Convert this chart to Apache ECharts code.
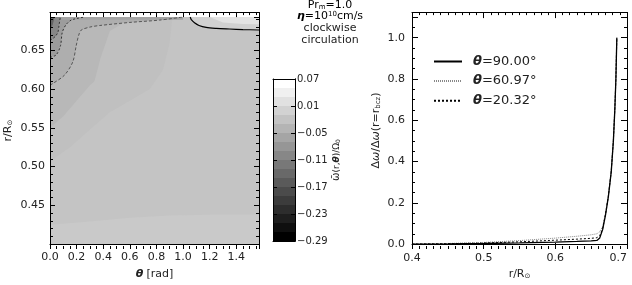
<!DOCTYPE html>
<html><head><meta charset="utf-8">
<script src="https://cdn.jsdelivr.net/npm/echarts@6/dist/echarts.min.js"></script>
<style>html,body{margin:0;padding:0;background:#fff}#c{width:632px;height:285px}</style>
</head><body><div id="c"></div>
<script>
const FONT = 'DejaVu Sans';
// ---------- data: left panel (contour map of omega(r,theta)/Omega0) ----------
const TH_MAX = Math.PI / 2;
const R_MIN = 0.40, R_MAX = 0.693;
// contour lines (theta [rad], r/Rsun)
const c0Th = [1.054, 1.062, 1.086, 1.12, 1.174, 1.25, 1.349, 1.45, 1.5708];      // solid
const c0R  = [0.693, 0.6895, 0.6855, 0.682, 0.6795, 0.6783, 0.6775, 0.6768, 0.6762];
const c1Th = [0, 0.02, 0.04, 0.059, 0.066, 0.072, 0.078];                            // inner dotted
const c1R  = [0.663, 0.665, 0.668, 0.673, 0.680, 0.687, 0.693];
const c2Th = [0, 0.046, 0.079, 0.092, 0.12, 0.159, 0.2, 0.26];                       // middle dotted
const c2R  = [0.641, 0.644, 0.656, 0.673, 0.683, 0.689, 0.691, 0.693];
const c3Th = [0, 0.02, 0.109, 0.171, 0.197, 0.215, 0.234, 0.30, 0.372, 0.60, 0.823, 1.0]; // outer dashed
const c3R  = [0.605, 0.607, 0.618, 0.635, 0.656, 0.669, 0.676, 0.680, 0.682, 0.686, 0.689, 0.693];
// filled-region boundaries and field values
const fBotTh = [0, 0.3, 0.6, 0.9, 1.2, 1.5708];
const fBotR  = [0.425, 0.429, 0.434, 0.437, 0.438, 0.438];
const fATh = [0, 0.15, 0.3, 0.45, 0.6, 0.75, 0.85, 0.9, 0.92];
const fAR  = [0.507, 0.525, 0.548, 0.570, 0.585, 0.600, 0.625, 0.66, 0.693];
const fBTh = [0, 0.1, 0.2, 0.3, 0.334, 0.38, 0.45, 0.6, 0.7];
const fBR  = [0.55, 0.565, 0.585, 0.605, 0.61, 0.64, 0.675, 0.69, 0.693];
const fCornTh = [0, 0.02, 0.035];
const fCornR  = [0.676, 0.683, 0.693];
const fTopTh = [0, 1.0];
const fTopR  = [0.6895, 0.6895];
const fTRTh = [1.2, 1.3, 1.45, 1.5708];
const fTRR  = [0.693, 0.686, 0.684, 0.6835];
const fieldVals = {base: -0.013, bottom: -0.006, A: -0.019, B: -0.03, c3: -0.045, c2: -0.07, c1: -0.10, corner: -0.15, top: -0.06, c0: 0.005, tr: 0.03};
// colour bar
const cbLevels = [-0.29,-0.27,-0.25,-0.23,-0.21,-0.19,-0.17,-0.15,-0.13,-0.11,-0.09,-0.07,-0.05,-0.03,-0.01,0.01,0.03,0.05,0.07];
const CB_STEP = 0.06;
const TH_STEP = 0.2, TH_MINOR = 0.05;
const R_STEP = 0.05, R_MINOR = 0.01;
// ---------- data: right panel ----------
const rGrid = [0.40, 0.45, 0.50, 0.55, 0.60, 0.63, 0.65, 0.658, 0.662, 0.666, 0.670, 0.674, 0.678, 0.681, 0.683, 0.6845, 0.6858];
const dw90  = [0.000, 0.001, 0.003, 0.006, 0.010, 0.013, 0.016, 0.018, 0.030, 0.070, 0.140, 0.230, 0.350, 0.500, 0.650, 0.800, 1.000];
const dw61  = [0.000, 0.003, 0.008, 0.017, 0.029, 0.038, 0.045, 0.050, 0.060, 0.085, 0.150, 0.235, 0.355, 0.505, 0.655, 0.805, 1.000];
const dw20  = [0.000, 0.002, 0.005, 0.011, 0.019, 0.024, 0.028, 0.031, 0.042, 0.075, 0.145, 0.232, 0.352, 0.502, 0.652, 0.802, 1.000];
const seriesNames = ['θ=90.00°', 'θ=60.97°', 'θ=20.32°'];
const RB_MIN = 0.4, RB_MAX = 0.7, RB_STEP = 0.1, RB_MINOR = 0.01;
const DW_MIN = 0, DW_MAX = 1.1, DW_STEP = 0.2, DW_MINOR = 0.05;

// ---------- helpers ----------
function zip(a, b) { return a.map((v, i) => [v, b[i]]); }
function grayOf(v) { let g = Math.round(255 * (v - cbLevels[0]) / (cbLevels[cbLevels.length - 1] - cbLevels[0])); g = Math.max(0, Math.min(255, g)); return 'rgb(' + g + ',' + g + ',' + g + ')'; }

const regions = [
  {pts: [[0, R_MIN], [TH_MAX, R_MIN], [TH_MAX, R_MAX], [0, R_MAX]], v: fieldVals.base},
  {pts: [[0, R_MIN]].concat(zip(fBotTh, fBotR), [[TH_MAX, R_MIN]]), v: fieldVals.bottom},
  {pts: zip(fATh, fAR).concat([[0, R_MAX]]), v: fieldVals.A},
  {pts: zip(fBTh, fBR).concat([[0, R_MAX]]), v: fieldVals.B},
  {pts: zip(c3Th, c3R).concat([[0, R_MAX]]), v: fieldVals.c3},
  {pts: zip(c2Th, c2R).concat([[0, R_MAX]]), v: fieldVals.c2},
  {pts: zip(fTopTh, fTopR).concat([[fTopTh[1], R_MAX], [0, R_MAX]]), v: fieldVals.top},
  {pts: zip(c1Th, c1R).concat([[0, R_MAX]]), v: fieldVals.c1},
  {pts: zip(fCornTh, fCornR).concat([[0, R_MAX]]), v: fieldVals.corner},
  {pts: zip(c0Th, c0R).concat([[TH_MAX, R_MAX]]), v: fieldVals.c0},
  {pts: zip(fTRTh, fTRR).concat([[TH_MAX, R_MAX]]), v: fieldVals.tr}
];

const GRIDS = [
  {left: 50, top: 17, width: 209, height: 232},
  {left: 412, top: 17, width: 215, height: 232},
  {left: 273, top: 79, width: 22, height: 162}
];
const txt = {color: '#222', fontFamily: FONT, fontSize: 11};
function mkAxis(o) {
  return {
    type: 'value', gridIndex: o.grid, position: o.pos, min: o.min, max: o.max, interval: o.step, offset: o.offset || 0, z: 10,
    axisLine: {show: !!o.line, onZero: false, lineStyle: {color: '#000', width: 1}},
    axisTick: o.len ? {show: true, inside: false, length: o.len, lineStyle: {color: '#000', width: 1}} : {show: false},
    axisLabel: o.labels ? Object.assign({show: true, formatter: o.fmt, margin: o.margin, showMinLabel: o.showMin !== false, showMaxLabel: o.showMax !== false}, txt, o.labelStyle || {}) : {show: false},
    splitLine: {show: false}, minorTick: {show: false}, axisPointer: {show: false},
    name: o.name || '', nameLocation: 'middle', nameGap: o.nameGap || 0, nameRotate: o.nameRotate || 0,
    nameTextStyle: o.nameStyle || {}
  };
}
// a frame of inward ticks: ticks of an axis moved to the opposite edge point into the plot
const opp = {bottom: 'top', top: 'bottom', left: 'right', right: 'left'};
function tickAxes(dim, g, min, max, major, minor, majLen, minLen) {
  const size = dim === 'x' ? GRIDS[g].height : GRIDS[g].width;
  const [p1, p2] = dim === 'x' ? ['bottom', 'top'] : ['left', 'right'];
  const out = [];
  for (const edge of [p1, p2]) {
    out.push(mkAxis({grid: g, pos: opp[edge], offset: -size, min, max, step: major, len: majLen, line: edge === p2}));
    if (minor) out.push(mkAxis({grid: g, pos: opp[edge], offset: -size, min, max, step: minor, len: minLen}));
  }
  return out;
}
const f1 = v => v.toFixed(1), f2 = v => v.toFixed(2).replace('-', '\u2212');
const subRich = {
  n: {fontFamily: FONT, fontSize: 11, color: '#222'},
  s: {fontFamily: FONT, fontSize: 7, color: '#222', verticalAlign: 'bottom', lineHeight: 8},
  i: {fontFamily: FONT, fontSize: 11, color: '#222', fontStyle: 'italic', fontWeight: 'bold'}
};

const xAxes = [
  mkAxis({grid: 0, pos: 'bottom', min: 0, max: TH_MAX, step: TH_STEP, line: true, labels: true, fmt: f1, margin: 8, showMax: false,
          name: '{i|θ} {n|[rad]}', nameGap: 19, nameStyle: {rich: subRich}}),
  mkAxis({grid: 1, pos: 'bottom', min: RB_MIN, max: RB_MAX, step: RB_STEP, line: true, labels: true, fmt: f1, margin: 9,
          labelStyle: {alignMaxLabel: 'right'},
          name: '{n|r/R}{s|⊙}', nameGap: 19, nameStyle: {rich: subRich}}),
  mkAxis({grid: 2, pos: 'bottom', min: 0, max: 1, line: true}),
  mkAxis({grid: 2, pos: 'top', min: 0, max: 1, line: true})
].concat(
  tickAxes('x', 0, 0, TH_MAX, TH_STEP, TH_MINOR, 5, 3),
  tickAxes('x', 1, RB_MIN, RB_MAX, RB_STEP, RB_MINOR, 6, 3)
);
const yAxes = [
  mkAxis({grid: 0, pos: 'left', min: R_MIN, max: R_MAX, step: R_STEP, line: true, labels: true, fmt: f2, margin: 5, showMin: false, showMax: false,
          name: '{n|r/R}{s|⊙}', nameGap: 36, nameRotate: 90, nameStyle: {rich: subRich}}),
  mkAxis({grid: 1, pos: 'left', min: DW_MIN, max: DW_MAX, step: DW_STEP, line: true, labels: true, fmt: f1, margin: 7, showMax: false,
          name: '{n|Δ}{o|ω}{n|/Δ}{o|ω}{n|(r=r}{s|bcz}{n|)}', nameGap: 30, nameRotate: 90, nameStyle: {rich: Object.assign({o: {fontFamily: FONT, fontSize: 11, color: '#222', fontStyle: 'italic'}}, subRich)}}),
  mkAxis({grid: 2, pos: 'left', min: cbLevels[0], max: cbLevels[cbLevels.length - 1], step: CB_STEP, line: true}),
  mkAxis({grid: 2, pos: 'right', min: cbLevels[0], max: cbLevels[cbLevels.length - 1], step: CB_STEP, line: true,
          labels: true, fmt: f2, margin: 2, labelStyle: {fontSize: 10},
          name: '{o|ω̄}{n|(r,}{i|θ}{n|)/Ω}{s|0}', nameGap: 28, nameRotate: 90,
          nameStyle: {rich: {o: {fontFamily: FONT, fontSize: 10, color: '#222'}, n: {fontFamily: FONT, fontSize: 9, color: '#222'}, i: {fontFamily: FONT, fontSize: 9, color: '#222', fontStyle: 'italic', fontWeight: 'bold'}, s: {fontFamily: FONT, fontSize: 6, color: '#222', verticalAlign: 'bottom', lineHeight: 7}}}})
].concat(
  tickAxes('y', 0, R_MIN, R_MAX, R_STEP, R_MINOR, 5, 3),
  tickAxes('y', 1, DW_MIN, DW_MAX, DW_STEP, DW_MINOR, 6, 3),
  tickAxes('y', 2, cbLevels[0], cbLevels[cbLevels.length - 1], CB_STEP, null, 4, 0)
);

const contourLine = (th, r, style) => ({type: 'line', xAxisIndex: 0, yAxisIndex: 0, data: zip(th, r), symbol: 'none', smooth: 0.3, silent: true, lineStyle: style, z: 5, clip: true});

const option = {
  animation: false,
  backgroundColor: '#fff',
  grid: GRIDS,
  xAxis: xAxes,
  yAxis: yAxes,
  legend: {
    data: seriesNames, orient: 'vertical', left: 428, top: 50, itemWidth: 28, itemHeight: 12, itemGap: 6.6,
    selectedMode: false, itemStyle: {opacity: 0, borderWidth: 0},
    formatter: n => '{sp|}{th|θ}{t|' + n.slice(1) + '}',
    textStyle: {rich: {sp: {width: 6}, th: {fontFamily: FONT, fontSize: 13, fontStyle: 'italic', fontWeight: 'bold', color: '#222'}, t: {fontFamily: FONT, fontSize: 13, color: '#222'}}}
  },
  graphic: [
    {type: 'text', x: 330, y: 5, silent: true, style: {text: '{n|Pr}{s|m}{n|=1.0}', align: 'center', verticalAlign: 'middle', rich: subRich}},
    {type: 'text', x: 330, y: 16, silent: true, style: {text: '{i|η}{n|=10}{p|10}{n|cm/s}', align: 'center', verticalAlign: 'middle', rich: Object.assign({p: {fontFamily: FONT, fontSize: 7, color: '#222', verticalAlign: 'top', lineHeight: 8}}, subRich)}},
    {type: 'text', x: 330, y: 28, silent: true, style: {text: 'clockwise', align: 'center', verticalAlign: 'middle', fill: '#222', font: '11px "DejaVu Sans"'}},
    {type: 'text', x: 330, y: 40, silent: true, style: {text: 'circulation', align: 'center', verticalAlign: 'middle', fill: '#222', font: '11px "DejaVu Sans"'}}
  ],
  series: [
    {
      type: 'custom', xAxisIndex: 0, yAxisIndex: 0, silent: true, clip: true, z: 1,
      data: regions.map((_, i) => [i]),
      encode: {x: -1, y: -1},
      renderItem: (params, api) => {
        const reg = regions[params.dataIndex];
        return {type: 'polygon', shape: {points: reg.pts.map(p => api.coord(p))}, style: {fill: grayOf(reg.v), stroke: null}};
      }
    },
    contourLine(c0Th, c0R, {color: '#000', width: 1.2, type: 'solid'}),
    contourLine(c1Th, c1R, {color: '#333', width: 1, type: [2, 2]}),
    contourLine(c2Th, c2R, {color: '#333', width: 1, type: [2, 2]}),
    contourLine(c3Th, c3R, {color: '#555', width: 1, type: [3, 2]}),
    {type: 'line', name: seriesNames[0], xAxisIndex: 1, yAxisIndex: 1, data: zip(rGrid, dw90), symbol: 'none', lineStyle: {color: '#000', width: 1.3, type: 'solid'}, itemStyle: {color: '#000'}, z: 6},
    {type: 'line', name: seriesNames[1], xAxisIndex: 1, yAxisIndex: 1, data: zip(rGrid, dw61), symbol: 'none', lineStyle: {color: '#888', width: 1, type: [1, 1]}, itemStyle: {color: '#888'}, z: 4},
    {type: 'line', name: seriesNames[2], xAxisIndex: 1, yAxisIndex: 1, data: zip(rGrid, dw20), symbol: 'none', lineStyle: {color: '#000', width: 1, type: [2, 2]}, itemStyle: {color: '#000'}, z: 5},
    {
      type: 'custom', xAxisIndex: 2, yAxisIndex: 2, silent: true, z: 1,
      data: cbLevels.slice(0, -1).map((_, i) => [i]),
      encode: {x: -1, y: -1},
      renderItem: (params, api) => {
        const i = params.dataIndex;
        const p0 = api.coord([0, cbLevels[i]]), p1 = api.coord([1, cbLevels[i + 1]]);
        const g = Math.round(255 * i / (cbLevels.length - 2));
        return {type: 'rect', shape: {x: p0[0], y: p1[1], width: p1[0] - p0[0], height: p0[1] - p1[1]}, style: {fill: 'rgb(' + g + ',' + g + ',' + g + ')'}};
      }
    }
  ]
};
const chart = echarts.init(document.getElementById('c'), null, {renderer: 'canvas'});
chart.setOption(option);
</script></body></html>
